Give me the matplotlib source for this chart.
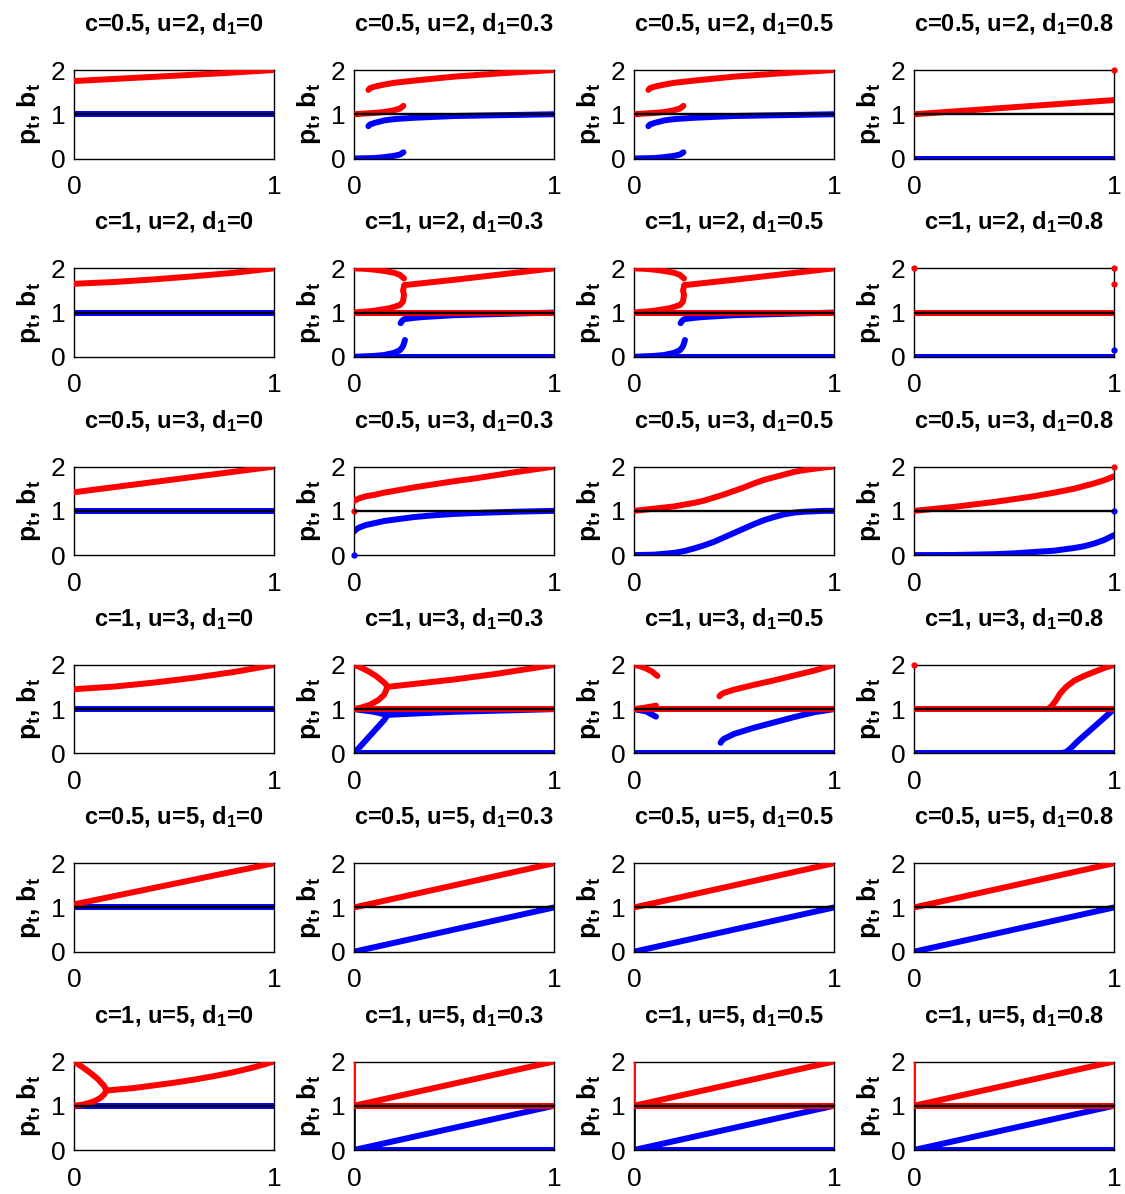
import matplotlib
matplotlib.use('Agg')
import matplotlib.pyplot as plt

# figure size in pixels at dpi 100
W, H = 11.25, 11.94

plt.rcParams['font.family'] = ['Liberation Sans Narrow', 'Liberation Sans', 'DejaVu Sans']
plt.rcParams['mathtext.fontset'] = 'custom'
plt.rcParams['mathtext.rm'] = 'Liberation Sans:bold'
plt.rcParams['mathtext.it'] = 'Liberation Sans:bold'
plt.rcParams['mathtext.bf'] = 'Liberation Sans:bold'
plt.rcParams['mathtext.default'] = 'rm'

# panel parameters
C_VALS = ['0.5', '1', '0.5', '1', '0.5', '1']
U_VALS = ['2', '2', '3', '3', '5', '5']
D_VALS = ['0', '0.3', '0.5', '0.8']

# common branches (x values, y values)
FLAT0 = ([0, 1], [0, 0])
FLAT1 = ([0, 1], [1, 1])
RISE12 = ([0, 1], [1, 2])
RISE01 = ([0, 1], [0, 1])

# ---- row 1: c=0.5, u=2
p00 = dict(red=[([0, 0.25, 0.5, 0.75, 1], [1.75, 1.81, 1.87, 1.93, 2.0])],
           blue=[FLAT1])
p01 = dict(red=[([0.072, 0.08, 0.1, 0.15, 0.2, 0.3, 0.5, 0.75, 1], [1.55, 1.59, 1.62, 1.67, 1.71, 1.76, 1.85, 1.93, 2.0]),
                ([0, 0.1, 0.15, 0.2, 0.23, 0.247], [1.0, 1.03, 1.05, 1.09, 1.13, 1.19])],
           blue=[([0.072, 0.08, 0.1, 0.15, 0.2, 0.3, 0.5, 0.75, 1], [0.73, 0.77, 0.8, 0.86, 0.89, 0.92, 0.96, 0.98, 1.0]),
                 ([0, 0.1, 0.15, 0.2, 0.23, 0.247], [0, 0.01, 0.03, 0.06, 0.09, 0.14])])
p02 = p01
p03 = dict(red=[([0, 1], [1.0, 1.32])], blue=[FLAT0],
           red_pts=([1], [2]))

# ---- row 2: c=1, u=2
p10 = dict(red=[([0, 0.2, 0.4, 0.6, 0.8, 1], [1.65, 1.69, 1.75, 1.82, 1.9, 2.0])],
           blue=[FLAT1])
p11 = dict(red=[FLAT1,
                ([0, 0.05, 0.1, 0.15, 0.2, 0.23, 0.25], [2.0, 1.99, 1.97, 1.94, 1.9, 1.85, 1.77]),
                ([0, 0.1, 0.18, 0.23, 0.245, 0.25, 0.245, 0.252], [1.0, 1.04, 1.1, 1.17, 1.25, 1.4, 1.5, 1.62]),
                ([0.252, 0.5, 0.75, 1], [1.62, 1.74, 1.87, 2.0])],
           blue=[FLAT0,
                 ([0, 0.1, 0.15, 0.2, 0.23, 0.245, 0.255], [0, 0.02, 0.04, 0.09, 0.15, 0.24, 0.38]),
                 ([0.233, 0.24, 0.25, 0.3, 0.35, 0.5, 0.75, 1], [0.76, 0.81, 0.85, 0.88, 0.9, 0.94, 0.97, 1.0])])
p12 = p11
p13 = dict(red=[FLAT1], blue=[FLAT0],
           red_pts=([0, 1, 1], [2, 2, 1.65]), blue_pts=([1], [0.15]))

# ---- row 3: c=0.5, u=3
p20 = dict(red=[([0, 0.5, 1], [1.42, 1.71, 2.0])], blue=[FLAT1])
p21 = dict(red=[([0, 0.01, 0.03, 0.06, 0.1, 0.15, 0.2, 0.3, 0.4, 0.5, 0.6, 0.8, 1],
                 [1.22, 1.25, 1.29, 1.33, 1.36, 1.41, 1.45, 1.53, 1.6, 1.67, 1.73, 1.87, 2.0])],
           blue=[([0, 0.01, 0.03, 0.06, 0.1, 0.15, 0.2, 0.3, 0.4, 0.5, 0.6, 0.8, 1],
                  [0.53, 0.58, 0.63, 0.68, 0.72, 0.77, 0.8, 0.86, 0.9, 0.93, 0.95, 0.98, 1.0])],
           red_pts=([0], [1]), blue_pts=([0], [0]))
p22 = dict(red=[([0, 0.1, 0.2, 0.25, 0.3, 0.35, 0.4, 0.45, 0.5, 0.55, 0.6, 0.65, 0.7, 0.75, 0.8, 0.85, 0.9, 0.95, 1],
                 [1.0, 1.05, 1.1, 1.14, 1.18, 1.23, 1.3, 1.37, 1.45, 1.53, 1.62, 1.7, 1.76, 1.82, 1.88, 1.92, 1.95, 1.98, 2.0])],
           blue=[([0, 0.1, 0.2, 0.25, 0.3, 0.35, 0.4, 0.45, 0.5, 0.55, 0.6, 0.65, 0.7, 0.75, 0.8, 0.85, 0.9, 0.95, 1],
                  [0, 0.01, 0.05, 0.09, 0.15, 0.22, 0.3, 0.4, 0.5, 0.6, 0.7, 0.79, 0.86, 0.92, 0.96, 0.98, 0.99, 1.0, 1.0])])
p23 = dict(red=[([0, 0.2, 0.4, 0.6, 0.7, 0.8, 0.9, 0.95, 1], [1.0, 1.09, 1.2, 1.33, 1.41, 1.5, 1.62, 1.69, 1.78])],
           blue=[([0, 0.2, 0.4, 0.5, 0.6, 0.7, 0.8, 0.85, 0.9, 0.95, 1],
                  [0, 0.003, 0.02, 0.04, 0.07, 0.1, 0.16, 0.2, 0.26, 0.34, 0.45])],
           red_pts=([1], [2]), blue_pts=([1], [1]))

# ---- row 4: c=1, u=3
p30 = dict(red=[([0, 0.2, 0.4, 0.6, 0.8, 1], [1.45, 1.51, 1.6, 1.71, 1.84, 2.0])], blue=[FLAT1])
p31 = dict(red=[FLAT1,
                ([0, 0.03, 0.07, 0.11, 0.14, 0.16, 0.165], [2.0, 1.95, 1.86, 1.75, 1.64, 1.56, 1.5]),
                ([0, 0.04, 0.08, 0.12, 0.15, 0.16, 0.165], [1.0, 1.04, 1.1, 1.2, 1.32, 1.42, 1.5]),
                ([0.165, 0.2, 0.3, 0.4, 0.5, 0.6, 0.7, 0.8, 0.9, 1],
                 [1.5, 1.52, 1.57, 1.62, 1.67, 1.73, 1.79, 1.86, 1.93, 2.0])],
           blue=[FLAT0,
                 ([0, 0.05, 0.1, 0.15, 0.165], [0, 0.25, 0.5, 0.75, 0.85]),
                 ([0, 0.1, 0.165], [1.0, 0.94, 0.87]),
                 ([0.165, 0.3, 0.5, 0.75, 1], [0.87, 0.9, 0.94, 0.97, 1.0])])
p32 = dict(red=[FLAT1,
                ([0, 0.03, 0.06, 0.09, 0.117], [2.0, 1.97, 1.92, 1.85, 1.75]),
                ([0, 0.05, 0.1, 0.11], [1.0, 1.03, 1.07, 1.08]),
                ([0.427, 0.435, 0.45, 0.5, 0.6, 0.7, 0.8, 0.9, 1], [1.29, 1.33, 1.37, 1.44, 1.55, 1.65, 1.76, 1.87, 2.0])],
           blue=[FLAT0,
                 ([0, 0.06, 0.11], [1.0, 0.95, 0.83]),
                 ([0.433, 0.44, 0.45, 0.5, 0.6, 0.7, 0.8, 0.9, 1], [0.24, 0.29, 0.33, 0.44, 0.58, 0.7, 0.82, 0.93, 1.0])])
p33 = dict(red=[FLAT1,
                ([0.67, 0.69, 0.71, 0.73, 0.76, 0.8, 0.85, 0.9, 0.95, 1],
                 [1.0, 1.08, 1.2, 1.35, 1.5, 1.64, 1.75, 1.84, 1.93, 2.0])],
           blue=[FLAT0,
                 ([0.73, 0.76, 0.78, 0.82, 0.86, 0.9, 0.95, 1], [0, 0.03, 0.1, 0.28, 0.44, 0.6, 0.8, 1.0])],
           red_pts=([0], [2]))

# ---- row 5: c=0.5, u=5
p40 = dict(red=[([0, 1], [1.07, 2.0])], blue=[FLAT1])
p41 = dict(red=[RISE12], blue=[RISE01])
p42 = p41
p43 = p41

# ---- row 6: c=1, u=5
p50 = dict(red=[([0, 0.04, 0.08, 0.12, 0.15, 0.16], [2.0, 1.88, 1.75, 1.6, 1.45, 1.37]),
                ([0, 0.05, 0.1, 0.13, 0.15, 0.16], [1.0, 1.03, 1.1, 1.17, 1.25, 1.33]),
                ([0.16, 0.2, 0.3, 0.4, 0.5, 0.6, 0.7, 0.8, 0.9, 1],
                 [1.34, 1.36, 1.4, 1.46, 1.52, 1.59, 1.67, 1.76, 1.87, 2.0])],
           blue=[FLAT1])
p51 = dict(red=[FLAT1, RISE12], blue=[FLAT0, RISE01],
           red_edge=([0, 0], [1, 2]), blue_edge=([0, 0], [0, 1]))
p52 = p51
p53 = p51

panels = [[p00, p01, p02, p03],
          [p10, p11, p12, p13],
          [p20, p21, p22, p23],
          [p30, p31, p32, p33],
          [p40, p41, p42, p43],
          [p50, p51, p52, p53]]

fig = plt.figure(figsize=(W, H), dpi=100)

# axes layout in pixels
left0, colstep, axw = 74, 280, 200
top0, rowstep, axh = 70, 198.3, 88.5

for i in range(6):
    for j in range(4):
        pan = panels[i][j]
        l = (left0 + j * colstep) / 1125
        b = 1 - (top0 + i * rowstep + axh) / 1194
        ax = fig.add_axes([l, b, axw / 1125, axh / 1194])

        for x, y in pan['blue']:
            ax.plot(x, y, color='#0000ff', lw=4.3, solid_capstyle='round',
                    solid_joinstyle='round', zorder=2)
        if 'blue_edge' in pan:
            ax.plot(*pan['blue_edge'], color='#0000ff', lw=2, zorder=2)
        for x, y in pan['red']:
            ax.plot(x, y, color='#ff0000', lw=4.3, solid_capstyle='round',
                    solid_joinstyle='round', zorder=3)
        if 'red_edge' in pan:
            ax.plot(*pan['red_edge'], color='#ff0000', lw=2, zorder=3)
        if 'red_pts' in pan:
            ax.plot(*pan['red_pts'], 'o', color='#ff0000', ms=3.5, zorder=3, clip_on=False)
        if 'blue_pts' in pan:
            ax.plot(*pan['blue_pts'], 'o', color='#0000ff', ms=3.5, zorder=3, clip_on=False)

        # reference line at 1
        ax.axhline(1, color='black', lw=1.7, zorder=4)

        ax.set_xlim(0, 1)
        ax.set_ylim(0, 2)
        ax.set_xticks([0, 1])
        ax.set_yticks([0, 1, 2])
        ax.tick_params(length=0, labelsize=19)
        ax.tick_params(axis='x', pad=12)
        ax.tick_params(axis='y', pad=6)
        for s in ax.spines.values():
            s.set_linewidth(1.0)

        ax.set_title('c=%s, u=%s, d$_1$=%s' % (C_VALS[i], U_VALS[i], D_VALS[j]),
                     fontsize=17, fontweight='bold', pad=28)
        ax.set_ylabel('p$_t$, b$_t$', fontsize=19, fontweight='bold', labelpad=6)

fig.savefig('out.png', dpi=100)
